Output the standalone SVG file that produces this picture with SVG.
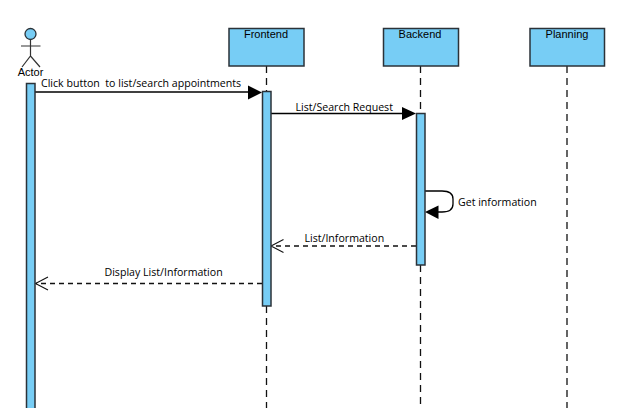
<svg xmlns="http://www.w3.org/2000/svg" width="630" height="408" viewBox="0 0 630 408">
<style>
.box{fill:#77cdf5;stroke:#2b3238;stroke-width:1.5}
.life{fill:none;stroke:#111;stroke-width:1.3;stroke-dasharray:7 5}
.msg{fill:none;stroke:#000;stroke-width:1.3}
.ret{fill:none;stroke:#111;stroke-width:1.3;stroke-dasharray:5 4}
.open{fill:none;stroke:#111;stroke-width:1.1}
.head{fill:#000;stroke:none}
.name{font-family:"Liberation Sans",Arial,sans-serif;font-size:11px;fill:#000;text-anchor:middle}
.lbl{font-family:"Open Sans","Noto Sans",sans-serif;font-size:10.6px;fill:#000;white-space:pre}
.fig{fill:none;stroke:#333;stroke-width:1.2}
</style>
<g id="connectors">
<path class="life" d="M266.500 66V91M266.500 306V408"/>
<path class="life" d="M420.500 66V113M420.500 265V408"/>
<path class="life" d="M567 66V408"/>
<path class="msg" d="M35 92H250"/>
<polygon class="head" points="248,85.500 262,92.500 248,99.500"/>
<path class="msg" d="M271 113.500H404"/>
<polygon class="head" points="402,107 416,113.500 402,120"/>
<path class="msg" d="M425 191H442Q453 191 453 199V204Q453 212 442 212H436"/>
<polygon class="head" points="425,212 438.500,205.500 438.500,219"/>
<path class="ret" d="M416 246H272"/>
<path class="open" d="M283.500 239.500L271 246L283.500 252.500"/>
<path class="ret" d="M262 283.500H36"/>
<path class="open" d="M48 277L35.500 283.500L48 290"/>
</g>
<g id="actor">
<circle cx="30.500" cy="34" r="5.500" fill="#77cdf5" stroke="#2b3238" stroke-width="1.300"/>
<path class="fig" d="M30.500 40V56M21 46H40.500M22 67L30.500 56L40 67"/>
<text class="name" x="30.500" y="76">Actor</text>
<rect class="box" x="26.500" y="83.500" width="8.500" height="330"/>
</g>
<g id="frontend">
<rect class="box" x="229" y="28.500" width="75" height="37.500"/>
<text class="name" x="266" y="38">Frontend</text>
<rect class="box" x="262.500" y="91.500" width="8.500" height="214.500"/>
</g>
<g id="backend">
<rect class="box" x="383.500" y="28.500" width="75" height="37.500"/>
<text class="name" x="420" y="38">Backend</text>
<rect class="box" x="416.500" y="113.500" width="8.500" height="151.500"/>
</g>
<g id="planning">
<rect class="box" x="530" y="28.500" width="74.500" height="37.500"/>
<text class="name" x="567" y="38">Planning</text>
</g>
<g id="labels">
<text class="lbl" x="41" y="87">Click button  to list/search appointments</text>
<text class="lbl" x="295.500" y="110.500">List/Search Request</text>
<text class="lbl" x="458" y="206">Get information</text>
<text class="lbl" x="304.500" y="242">List/Information</text>
<text class="lbl" x="104.500" y="276">Display List/Information</text>
</g>
</svg>
